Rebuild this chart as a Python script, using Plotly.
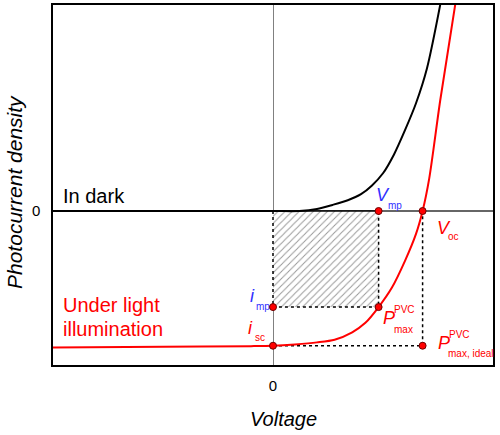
import plotly.graph_objects as go

# ---- data (normalised units) ----
dark_v = [-1.0, 0.0, 0.12, 0.2, 0.27, 0.34, 0.4, 0.45, 0.5, 0.55, 0.6, 0.65, 0.7, 0.76]
dark_i = [0.0, 0.0, 0.0, 0.015, 0.045, 0.08, 0.125, 0.19, 0.28, 0.42, 0.6, 0.80, 1.06, 1.53]

light_v = [-1.0, -0.5, -0.1, 0.0, 0.1, 0.2, 0.28, 0.36, 0.42, 0.48, 0.54, 0.60, 0.65, 0.68, 0.71, 0.76, 0.83]
light_i = [-1.013, -1.008, -1.003, -1.0, -0.99, -0.975, -0.955, -0.9, -0.83, -0.713, -0.57, -0.37, -0.17, 0.0, 0.24, 0.82, 1.55]

v_mp = 0.48
v_oc = 0.68
i_mp = -0.713
i_sc = -1.0

x_range = [-1.0, 1.0]
y_range = [-1.143, 1.529]

FONT = "Liberation Sans, Arial, sans-serif"
RED = "#ff0000"
BLUE = "#3030ff"

fig = go.Figure()

# hatched maximum power rectangle
fig.add_trace(go.Scatter(
    x=[0, v_mp, v_mp, 0, 0], y=[0, 0, i_mp, i_mp, 0],
    mode="lines", fill="toself", line=dict(width=0),
    fillcolor="rgba(0,0,0,0)",
    fillpattern=dict(shape="/", fgcolor="#333333", bgcolor="white", size=5, solidity=0.2),
    hoverinfo="skip", showlegend=False))

dot = dict(color="black", width=1.5, dash="dot")
# rectangle borders
fig.add_trace(go.Scatter(x=[0, 0, v_mp, v_mp], y=[0, i_mp, i_mp, 0], mode="lines",
                         line=dot, showlegend=False, hoverinfo="skip"))
fig.add_trace(go.Scatter(x=[0, v_mp], y=[0, 0], mode="lines",
                         line=dict(color="black", width=1.5), showlegend=False, hoverinfo="skip"))
# ideal rectangle borders
fig.add_trace(go.Scatter(x=[0, v_oc, v_oc], y=[i_sc, i_sc, 0], mode="lines",
                         line=dot, showlegend=False, hoverinfo="skip"))

# curves
fig.add_trace(go.Scatter(x=dark_v, y=dark_i, mode="lines", line=dict(color="black", width=2, shape="spline", smoothing=0.8),
                         showlegend=False, hoverinfo="skip"))
fig.add_trace(go.Scatter(x=light_v, y=light_i, mode="lines", line=dict(color=RED, width=2, shape="spline", smoothing=0.8),
                         showlegend=False, hoverinfo="skip"))

# key points
fig.add_trace(go.Scatter(
    x=[v_mp, v_oc, 0, v_mp, 0, v_oc],
    y=[0, 0, i_mp, i_mp, i_sc, i_sc],
    mode="markers",
    marker=dict(color=RED, size=7, line=dict(color="#700000", width=1)),
    showlegend=False, hoverinfo="skip"))

L, R, T, B = 53, 7, 5, 70
W, H = 500, 435
pw, ph = W - L - R, H - T - B


def pp(x, y):
    return (x - L) / pw, (H - B - y) / ph


annotations = []


def txt(text, x, y, size, color, italic=False, xanchor="left", yanchor="middle"):
    px_, py_ = pp(x, y)
    annotations.append(dict(
        text=text, x=px_, y=py_, xref="paper", yref="paper",
        xanchor=xanchor, yanchor=yanchor, showarrow=False,
        font=dict(family=FONT, size=size, color=color,
                  style="italic" if italic else "normal"),
    ))


txt("In dark", 61, 196, 20, "black")
txt("Under light", 61, 305, 20, RED)
txt("illumination", 61, 329, 20, RED)

SUB = 10
# V_mp
txt("V", 374, 195, 18, BLUE, italic=True)
txt("mp", 386, 205, SUB, BLUE)
# V_oc
txt("V", 435, 228, 18, RED, italic=True)
txt("oc", 446, 237, SUB, RED)
# i_mp
txt("i", 248, 296, 18, BLUE, italic=True)
txt("mp", 254, 306, SUB, BLUE)
# i_sc
txt("i", 246, 328, 18, RED, italic=True)
txt("sc", 253, 337, SUB, RED)
# P_max^PVC
txt("P", 381, 318, 18, RED, italic=True)
txt("PVC", 392, 309, SUB, RED)
txt("max", 392, 329, SUB, RED)
# P_max,ideal^PVC
txt("P", 436, 343, 18, RED, italic=True)
txt("PVC", 447, 334, SUB, RED)
txt("max, ideal", 446, 353, SUB, RED)

# axis titles
txt("Voltage", 283, 419, 20, "black", italic=True, xanchor="center")
px_, py_ = pp(15, 192)
annotations.append(dict(text="Photocurrent density", x=px_, y=py_, xref="paper", yref="paper",
                        xanchor="center", yanchor="middle", showarrow=False, textangle=-90,
                        font=dict(family=FONT, size=21, color="black", style="italic")))

fig.update_layout(
    width=W, height=H,
    margin=dict(l=L, r=R, t=T, b=B, autoexpand=False),
    paper_bgcolor="white", plot_bgcolor="white",
    annotations=annotations,
    showlegend=False,
)
fig.update_xaxes(range=x_range, automargin=False, showgrid=False, zeroline=True, zerolinecolor="#808080", zerolinewidth=1,
                 showline=True, mirror=True, linecolor="black", linewidth=1.5,
                 tickvals=[0], ticktext=["0"], ticks="", tickfont=dict(family=FONT, size=15, color="black"),
                 ticklabelstandoff=6)
fig.update_yaxes(range=y_range, automargin=False, showgrid=False, zeroline=True, zerolinecolor="#666666", zerolinewidth=1.5,
                 showline=True, mirror=True, linecolor="black", linewidth=1.5,
                 tickvals=[0], ticktext=["0"], ticks="", tickfont=dict(family=FONT, size=15, color="black"),
                 ticklabelstandoff=8)

fig.write_html("out.html", config={"displayModeBar": False},
               post_script="document.body.style.margin='0px';document.body.style.overflow='hidden';")
